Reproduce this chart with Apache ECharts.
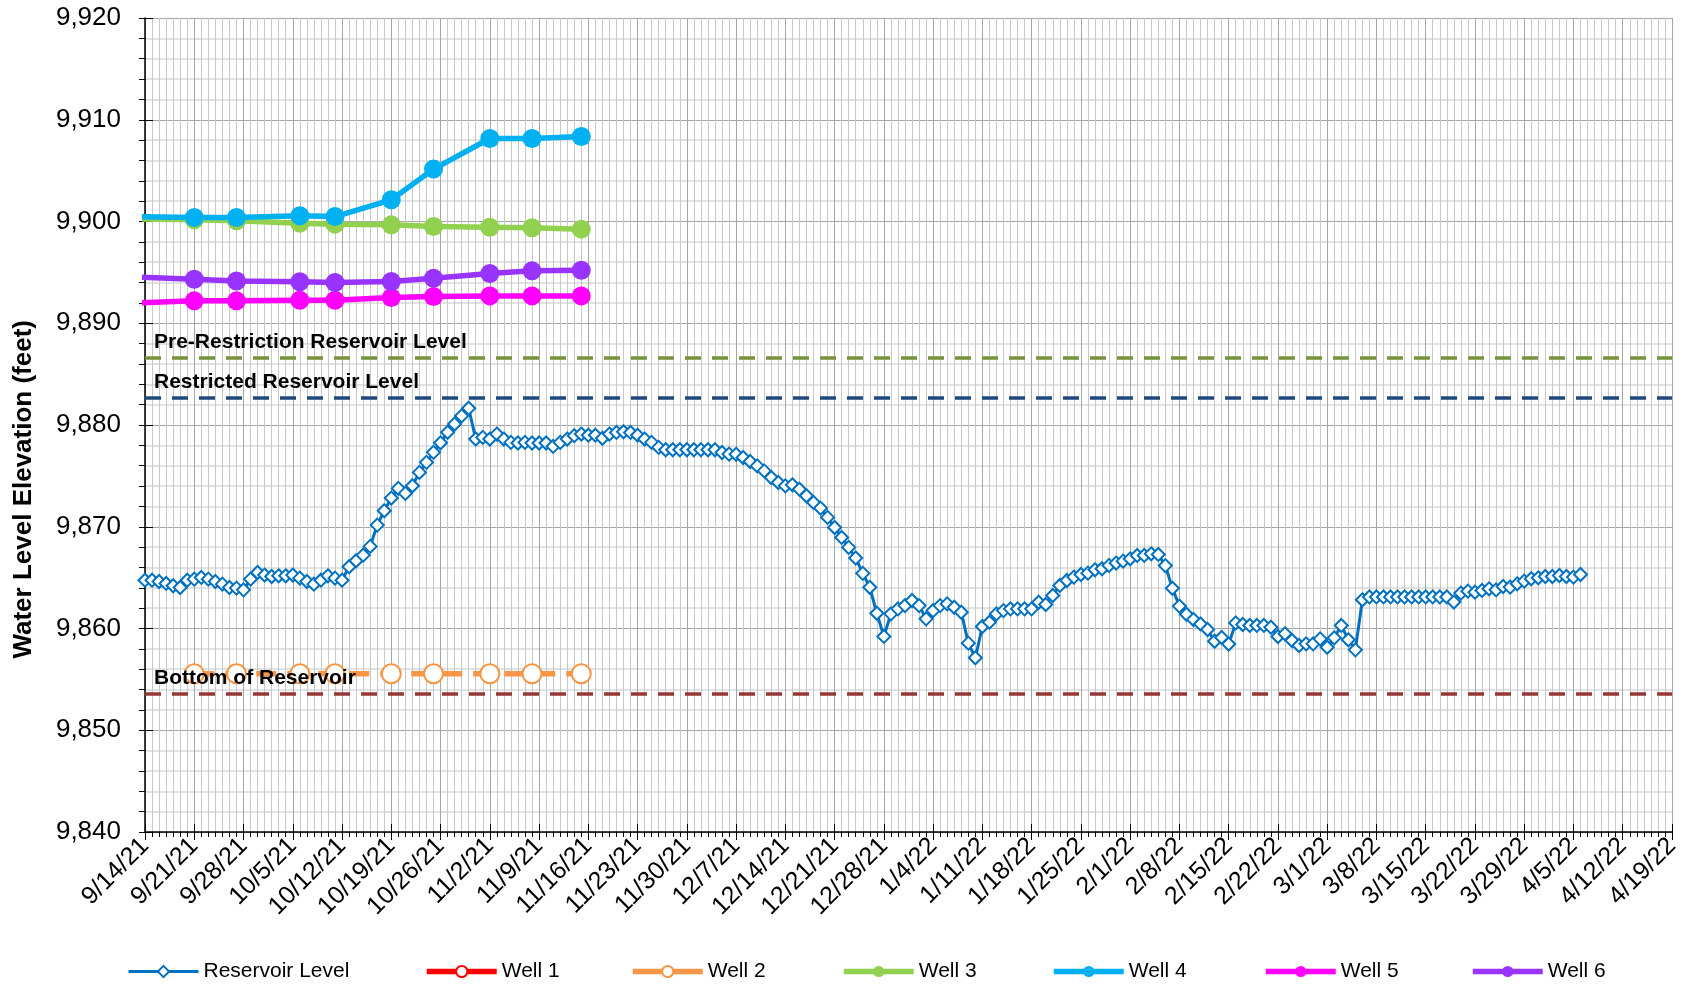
<!DOCTYPE html>
<html>
<head>
<meta charset="utf-8">
<script src="https://cdn.jsdelivr.net/npm/echarts@6/dist/echarts.min.js"></script>
<style>
html,body{margin:0;padding:0;background:#fff;}
#chart{width:1690px;height:985px;}
</style>
</head>
<body>
<div id="chart"></div>
<script>
// ---------- data ----------
var axisStartDate = '2021-09-14';
var axisEndDate = '2022-04-19';
var yTicks = [9840, 9920, 10];

// Reservoir level: daily readings starting 9/14/21
var reservoirStartDate = '2021-09-14';
var reservoirLevel = [
  9864.75, 9864.75, 9864.62, 9864.43, 9864.20, 9864.03, 9864.75, 9864.85, 9865.02, 9864.85,
  9864.62, 9864.36, 9864.03, 9863.97, 9863.80, 9864.85, 9865.51, 9865.25, 9865.11, 9865.18,
  9865.18, 9865.25, 9864.95, 9864.62, 9864.36, 9864.75, 9865.18, 9864.95, 9864.75, 9866.07,
  9866.66, 9867.21, 9868.07, 9870.16, 9871.57, 9872.82, 9873.77, 9873.28, 9874.03, 9875.34,
  9876.33, 9877.31, 9878.25, 9879.28, 9880.10, 9880.90, 9881.65, 9878.62, 9878.78, 9878.62,
  9879.11, 9878.62, 9878.29, 9878.23, 9878.29, 9878.23, 9878.23, 9878.23, 9877.90, 9878.29,
  9878.62, 9878.95, 9879.11, 9879.00, 9879.00, 9878.69, 9879.11, 9879.27, 9879.34, 9879.27,
  9879.00, 9878.62, 9878.29, 9877.80, 9877.57, 9877.57, 9877.57, 9877.57, 9877.57, 9877.57,
  9877.57, 9877.57, 9877.30, 9877.14, 9877.12, 9876.80, 9876.41, 9875.98, 9875.49, 9874.84,
  9874.35, 9874.02, 9874.12, 9873.69, 9873.04, 9872.39, 9871.83, 9870.92, 9869.93, 9868.95,
  9867.97, 9866.93, 9865.42, 9864.05, 9861.50, 9859.22, 9861.44, 9861.93, 9862.25, 9862.75,
  9862.25, 9860.95, 9861.76, 9862.25, 9862.42, 9862.09, 9861.60, 9858.56, 9857.12, 9860.20,
  9860.62, 9861.44, 9861.76, 9861.93, 9861.93, 9861.93, 9861.93, 9862.58, 9862.36, 9863.25,
  9864.23, 9864.72, 9865.05, 9865.31, 9865.44, 9865.77, 9865.87, 9866.20, 9866.43, 9866.62,
  9866.85, 9867.18, 9867.18, 9867.34, 9867.28, 9866.18, 9863.95, 9862.20, 9861.40, 9860.88,
  9860.45, 9859.90, 9858.75, 9859.12, 9858.47, 9860.55, 9860.39, 9860.30, 9860.30, 9860.30,
  9860.13, 9859.21, 9859.48, 9858.82, 9858.33, 9858.49, 9858.49, 9858.98, 9858.16, 9859.08,
  9860.30, 9858.89, 9857.90, 9862.82, 9863.10, 9863.10, 9863.10, 9863.10, 9863.10, 9863.10,
  9863.10, 9863.10, 9863.10, 9863.10, 9863.10, 9863.10, 9862.60, 9863.48, 9863.67, 9863.57,
  9863.74, 9863.90, 9863.80, 9864.13, 9864.07, 9864.39, 9864.66, 9864.89, 9864.98, 9865.11,
  9865.11, 9865.21, 9865.11, 9865.05, 9865.31
];

// Well measurement dates (first one lies before the axis start)
var wellDates = ['2021-09-07', '2021-09-21', '2021-09-27', '2021-10-06', '2021-10-11',
                 '2021-10-19', '2021-10-25', '2021-11-02', '2021-11-08', '2021-11-15'];
var well1 = [];
var well2 = [null, 9855.55, 9855.55, 9855.55, 9855.55, 9855.55, 9855.55, 9855.55, 9855.55, 9855.55];
var well3 = [9900.30, 9900.16, 9900.07, 9899.84, 9899.74, 9899.67, 9899.51, 9899.44, 9899.38, 9899.25];
var well4 = [9900.53, 9900.39, 9900.39, 9900.56, 9900.49, 9902.13, 9905.15, 9908.16, 9908.16, 9908.36];
var well5 = [9891.86, 9892.20, 9892.20, 9892.26, 9892.26, 9892.52, 9892.62, 9892.69, 9892.69, 9892.69];
var well6 = [9894.67, 9894.33, 9894.16, 9894.07, 9894.00, 9894.10, 9894.43, 9894.89, 9895.15, 9895.20];

// Reference levels
var refNames = ['Pre-Restriction Reservoir Level', 'Restricted Reservoir Level', 'Bottom of Reservoir'];
var refLevels = [9886.6, 9882.65, 9853.6];

// ---------- helpers ----------
var DAY = 86400000;
function utc(s) { var p = s.split('-').map(Number); return Date.UTC(p[0], p[1] - 1, p[2]); }
var T0 = utc(axisStartDate);
function dayIdx(s) { return Math.round((utc(s) - T0) / DAY); }
function fmtDay(d) {
  var t = new Date(T0 + d * DAY);
  return (t.getUTCMonth() + 1) + '/' + t.getUTCDate() + '/' + String(t.getUTCFullYear()).slice(2);
}
var resStart = dayIdx(reservoirStartDate);
var reservoirData = reservoirLevel.map(function (v, i) { return [resStart + i, v]; });
function wellData(vals) { return vals.map(function (v, i) { return [dayIdx(wellDates[i]), v]; }); }

var FONT = "'Liberation Sans', Arial, sans-serif";
var xMax = dayIdx(axisEndDate);

var colors = {
  res: '#0070C0', w1: '#FF0000', w2: '#F79646', w3: '#92D050', w4: '#00B0F0', w5: '#FF00FF', w6: '#9933FF',
  pre: '#77933C', rest: '#1F497D', bot: '#953735'
};
var refColors = [colors.pre, colors.rest, colors.bot];

function wellSeries(name, vals, color, hollow) {
  return {
    name: name, type: 'line', data: wellData(vals),
    xAxisIndex: 0, yAxisIndex: 0,
    symbol: hollow ? 'emptyCircle' : 'circle',
    symbolSize: hollow ? 19 : 19,
    showAllSymbol: true,
    lineStyle: { color: color, width: 5.5, type: hollow ? [20, 11] : 'solid', cap: 'butt' },
    itemStyle: { color: color, borderColor: color, borderWidth: hollow ? 4 : 0 },
    emphasis: { disabled: true },
    z: 3
  };
}

var series = [];
series.push({
  name: 'Reservoir Level', type: 'line', data: reservoirData,
  xAxisIndex: 0, yAxisIndex: 0,
  symbol: 'emptyDiamond', symbolSize: 13, showAllSymbol: true,
  lineStyle: { color: colors.res, width: 3 },
  itemStyle: { color: colors.res, borderColor: colors.res, borderWidth: 2 },
  emphasis: { disabled: true },
  z: 4
});
series.push(wellSeries('Well 1', well1, colors.w1, true));
series.push(wellSeries('Well 2', well2, colors.w2, true));
series.push(wellSeries('Well 3', well3, colors.w3, false));
series.push(wellSeries('Well 4', well4, colors.w4, false));
series.push(wellSeries('Well 5', well5, colors.w5, false));
series.push(wellSeries('Well 6', well6, colors.w6, false));

refNames.forEach(function (n, i) {
  series.push({
    name: n, type: 'line', data: [], xAxisIndex: 0, yAxisIndex: 0,
    markLine: {
      silent: true, symbol: ['none', 'none'], animation: false,
      lineStyle: { color: refColors[i], width: 3.5, type: [16, 11], cap: 'butt' },
      label: {
        show: true, position: 'insideStartTop', formatter: n, distance: [9, 5],
        color: '#000', fontFamily: FONT, fontWeight: 'bold', fontSize: 21
      },
      data: [{ yAxis: refLevels[i] }]
    },
    z: 6
  });
});

var legendNames = ['Reservoir Level', 'Well 1', 'Well 2', 'Well 3', 'Well 4', 'Well 5', 'Well 6'];
var legendLeft = [127, 424, 630, 841, 1051, 1263, 1470];
var legendLineW = [3, 5.5, 5.5, 5.5, 5.5, 5.5, 5.5];
var legends = legendNames.map(function (n, i) {
  return {
    data: [n], left: legendLeft[i], top: 961, itemWidth: 70, itemHeight: 14, itemGap: 8,
    padding: 0, selectedMode: false,
    lineStyle: { width: legendLineW[i], type: 'solid' },
    textStyle: { fontFamily: FONT, fontSize: 21, color: '#000' }
  };
});

var option = {
  animation: false,
  backgroundColor: '#fff',
  legend: legends,
  grid: { left: 145, right: 18, top: 18, bottom: 153, containLabel: false },
  xAxis: [{
    type: 'value', min: 0, max: xMax, interval: 7, position: 'bottom',
    axisLine: { show: true, onZero: false, lineStyle: { color: '#000', width: 1.5 } },
    axisTick: { show: true, length: 8, lineStyle: { color: '#000', width: 1 } },
    minorTick: { show: true, splitNumber: 7, length: 5, lineStyle: { color: '#000', width: 1 } },
    splitLine: { show: true, lineStyle: { color: '#a6a6a6', width: 1 } },
    minorSplitLine: { show: true, lineStyle: { color: '#c8c8c8', width: 1 } },
    axisLabel: {
      rotate: 45, margin: 10, formatter: fmtDay,
      fontFamily: FONT, fontSize: 25, color: '#000'
    }
  }, {
    type: 'value', min: 0, max: xMax, interval: 7, position: 'bottom',
    axisLine: { show: false },
    axisTick: { show: true, inside: true, length: 8, lineStyle: { color: '#000', width: 1 } },
    axisLabel: { show: false }, splitLine: { show: false }
  }],
  yAxis: [{
    type: 'value', min: yTicks[0], max: yTicks[1], interval: yTicks[2], position: 'left',
    axisLine: { show: true, onZero: false, lineStyle: { color: '#000', width: 1.5 } },
    axisTick: { show: true, length: 6, lineStyle: { color: '#000', width: 1 } },
    minorTick: { show: true, splitNumber: 5, length: 6, lineStyle: { color: '#000', width: 1 } },
    splitLine: { show: true, lineStyle: { color: '#a6a6a6', width: 1 } },
    minorSplitLine: { show: true, lineStyle: { color: '#d9d9d9', width: 1.5 } },
    axisLabel: {
      margin: 24, fontFamily: FONT, fontSize: 26, color: '#000',
      formatter: function (v) { return v.toLocaleString('en-US'); }
    }
  }, {
    type: 'value', min: yTicks[0], max: yTicks[1], interval: yTicks[2], position: 'left',
    axisLine: { show: false },
    axisTick: { show: true, inside: true, length: 8, lineStyle: { color: '#000', width: 1 } },
    axisLabel: { show: false }, splitLine: { show: false }
  }],
  graphic: [{
    type: 'text', left: 11, top: 320, rotation: Math.PI / 2,
    style: {
      text: 'Water Level Elevation (feet)', fill: '#000',
      font: "bold 26px 'Liberation Sans', Arial, sans-serif"
    }
  }],
  series: series
};

var chart = echarts.init(document.getElementById('chart'), null, { renderer: 'canvas' });
chart.setOption(option);
</script>
</body>
</html>
